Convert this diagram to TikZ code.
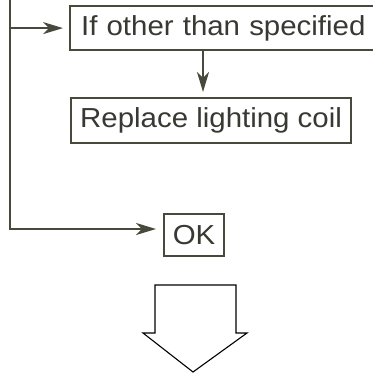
\documentclass[tikz,border=0pt]{standalone}
\usepackage{fontspec}
\newfontfamily\hv[FakeStretch=1.07]{Liberation Sans}
\usetikzlibrary{arrows.meta}
\definecolor{ink}{RGB}{70,74,60}
\definecolor{txt}{RGB}{55,57,50}
\definecolor{thin}{RGB}{95,98,88}
\tikzset{
  box/.style={draw=ink, line width=2.2pt, anchor=north west, inner sep=0pt,
    text=txt, font=\hv\fontsize{27.5}{30}\selectfont},
  conn/.style={draw=ink, line width=2.2pt,
    -{Stealth[length=20pt,width=12pt,inset=6pt]}}
}
\begin{document}
\begin{tikzpicture}[x=1pt,y=-1pt]
\useasboundingbox[fill=white] (0,0) rectangle (372,374);
\node[box, minimum width=312pt, minimum height=44pt, align=left, text width=290pt,
      inner xsep=11pt] (b1) at (69,5) {If other than specified};
\node[box, minimum width=280pt, minimum height=45pt] (b2) at (70,97) {Replace lighting coil};
\node[box, minimum width=60pt, minimum height=42pt] (ok) at (163,213) {OK};
\coordinate (top) at (10,-2);
\coordinate (corner) at (10,229);
\coordinate (d1) at (203,49);
\draw[conn, shorten >=6pt] (top |- b1.west) -- (b1.west);
\draw[conn, shorten >=5pt] (d1) -- (d1 |- b2.north);
\draw[conn, shorten >=7pt] (top) -- (corner) -- (corner -| ok.west);
\draw[thin, line width=1.1pt, line join=miter]
  (155,285) -- (236,285) -- (236,333) -- (247,333) -- (193,372)
  -- (143,333) -- (155,333) -- cycle;
\end{tikzpicture}
\end{document}
